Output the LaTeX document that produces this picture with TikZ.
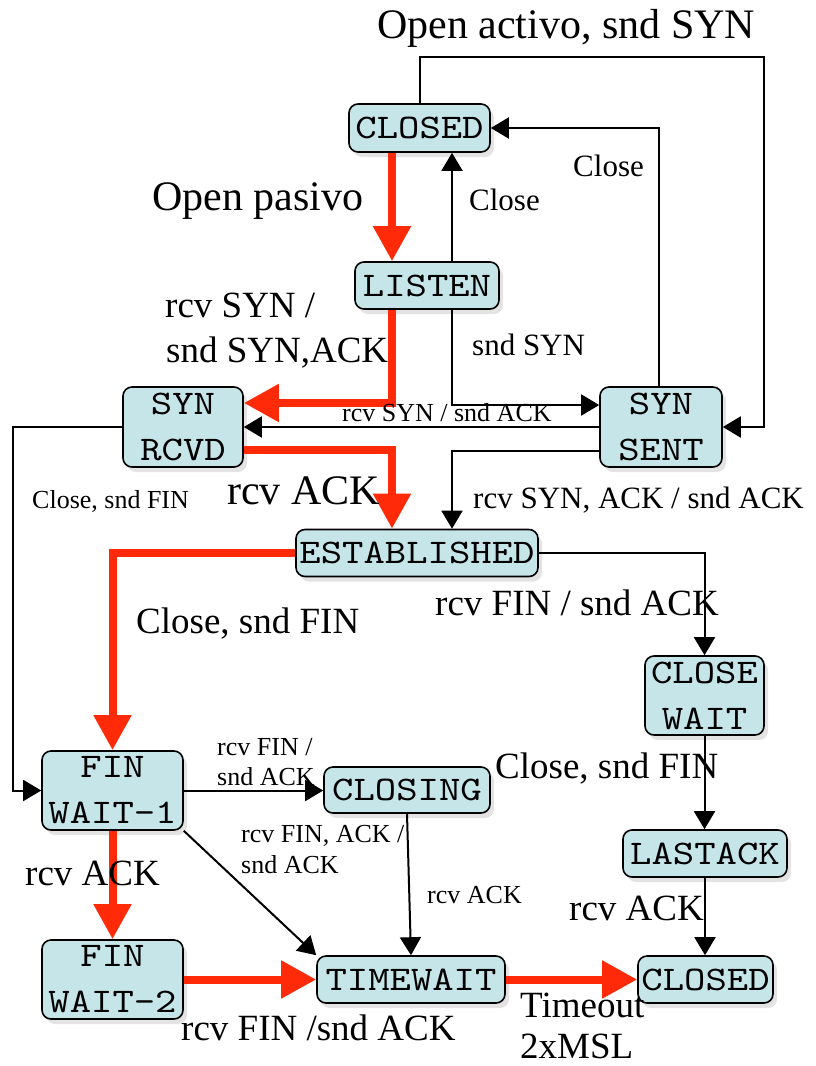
\documentclass[tikz,border=0pt]{standalone}
\usepackage{fontspec}
\setmainfont{Liberation Serif}
\newfontfamily\statefont{lmmono10-regular.otf}[FakeStretch=1.18]
\usetikzlibrary{arrows.meta,shadows}

\definecolor{statefill}{RGB}{198,229,233}
\definecolor{pathred}{RGB}{255,42,8}

\begin{document}
\begin{tikzpicture}[x=1pt,y=-1pt,
  state/.style={draw=black, line width=1.6pt, rounded corners=9pt, fill=statefill,
    inner sep=0pt, align=center, font=\fontsize{34.5}{46}\selectfont\statefont,
    drop shadow={shadow xshift=4pt, shadow yshift=-5pt, opacity=0.22}},
  flow/.style={draw=black, line width=2pt, -{Triangle[length=18pt,width=21pt]}},
  mainflow/.style={draw=pathred, line width=8pt, -{Triangle[length=35pt,width=36pt]}},
  lblbase/.style={anchor=base west, inner sep=0pt},
  lblL/.style={lblbase, font=\fontsize{42}{48}\selectfont},
  lblM/.style={lblbase, font=\fontsize{37}{44}\selectfont},
  lblS/.style={lblbase, font=\fontsize{31}{36}\selectfont},
  lblXS/.style={lblbase, font=\fontsize{26}{30}\selectfont}]

\useasboundingbox (0,0) rectangle (816,1066);

% states
\node[state, minimum width=141pt, minimum height=48pt] (closed)  at (419.5,128) {CLOSED};
\node[state, minimum width=144pt, minimum height=47pt] (listen)  at (427,285.5) {LISTEN};
\node[state, minimum width=120pt, minimum height=80pt] (synrcvd) at (183,427) {SYN\\RCVD};
\node[state, minimum width=122pt, minimum height=80pt] (synsent) at (661,427) {SYN\\SENT};
\node[state, minimum width=242pt, minimum height=47pt] (estab)   at (417,553) {ESTABLISHED};
\node[state, minimum width=119pt, minimum height=79pt] (clwait)  at (704.5,695.5) {CLOSE\\WAIT};
\node[state, minimum width=141pt, minimum height=79pt] (finw1)   at (112.5,790.5) {FIN\\WAIT-1};
\node[state, minimum width=166pt, minimum height=46pt] (closing) at (407,790) {CLOSING};
\node[state, minimum width=164pt, minimum height=47pt] (lastack) at (705,853.5) {LASTACK};
\node[state, minimum width=141pt, minimum height=79pt] (finw2)   at (112.5,979.5) {FIN\\WAIT-2};
\node[state, minimum width=188pt, minimum height=47pt] (timewait) at (411,979.5) {TIMEWAIT};
\node[state, minimum width=135pt, minimum height=47pt] (closedb) at (705.5,979.5) {CLOSED};

% corner points of the long routes
\coordinate (activeTop) at (764,57);
\coordinate (closeLeft) at (13,427);

% normal transitions
\draw[flow] ([xshift=25pt]listen.north) -- ([xshift=25pt]listen.north |- closed.south);
\draw[flow] ([xshift=25pt]listen.south) |- ([yshift=22pt]synsent.west);
\draw[flow] (synsent.west) -- (synrcvd.east);
\draw[flow] ([xshift=-2pt]synsent.north) |- (closed.east);
\draw[flow] (closed.north) |- (activeTop) |- (synsent.east);
\draw[flow] ([yshift=-24pt]synsent.west) -| ([xshift=35pt]estab.north);
\draw[flow] (synrcvd.west) -- (closeLeft) |- (finw1.west);
\draw[flow] (estab.east) -| (clwait.north);
\draw[flow] (clwait.south) -- (clwait.south |- lastack.north);
\draw[flow] (lastack.south) -- (lastack.south |- closedb.north);
\draw[flow] (finw1.east) -- (finw1.east -| closing.west);
\draw[flow] (finw1.south east) -- (timewait.north west);
\draw[flow] (closing.south) -- (timewait.north);

% main (highlighted) path
\draw[mainflow] ([xshift=-27.5pt]closed.south) -- ([xshift=-27.5pt]closed.south |- listen.north);
\draw[mainflow] ([xshift=-35pt]listen.south) |- ([yshift=24pt]synrcvd.east);
\draw[mainflow] ([yshift=-23pt]synrcvd.east) -| ([xshift=-25pt]estab.north);
\draw[mainflow] (estab.west) -| (finw1.north);
\draw[mainflow] (finw1.south) -- (finw2.north);
\draw[mainflow] (finw2.east) -- (finw2.east -| timewait.west);
\draw[mainflow] (timewait.east) -- (timewait.east -| closedb.west);

% labels
\node[lblL] (tOpenA)   at (377,38)  {Open activo, snd SYN};
\node[lblL] (tOpenP)   at (152,210) {Open pasivo};
\node[lblS] (tClose1)  at (469,210) {Close};
\node[lblS] (tClose2)  at (573,176) {Close};
\node[lblM] (tRcvSyn1) at (165,317) {rcv SYN /};
\node[lblM] (tRcvSyn2) at (166,362) {snd SYN,ACK};
\node[lblS] (tSndSyn)  at (472,355) {snd SYN};
\node[lblXS] (tSynAck) at (342,421) {rcv SYN / snd ACK};
\node[lblXS] (tCloseA) at (32,508)  {Close, snd FIN};
\node[lblL] (tRcvAck1) at (227,504) {rcv ACK};
\node[lblS] (tSynAckB) at (473,508) {rcv SYN, ACK / snd ACK};
\node[lblM] (tCloseB)  at (136,633) {Close, snd FIN};
\node[lblM] (tFinAck)  at (435,615) {rcv FIN / snd ACK};
\node[lblXS] (tFin1a)  at (217,755) {rcv FIN /};
\node[lblXS] (tFin1b)  at (217,785) {snd ACK};
\node[lblM] (tCloseC)  at (495,778) {Close, snd FIN};
\node[lblXS] (tFinAckA) at (241,842) {rcv FIN, ACK /};
\node[lblXS] (tFinAckB) at (241,873) {snd ACK};
\node[lblM] (tRcvAck2) at (25,885)  {rcv ACK};
\node[lblXS] (tRcvAck3) at (427,903) {rcv ACK};
\node[lblM] (tRcvAck4) at (569,920) {rcv ACK};
\node[lblM] (tFinSnd)  at (181,1040) {rcv FIN /snd ACK};
\node[lblM] (tTimeout) at (520,1017) {Timeout};
\node[lblM] (tMsl)     at (520,1058) {2xMSL};

\end{tikzpicture}
\end{document}
